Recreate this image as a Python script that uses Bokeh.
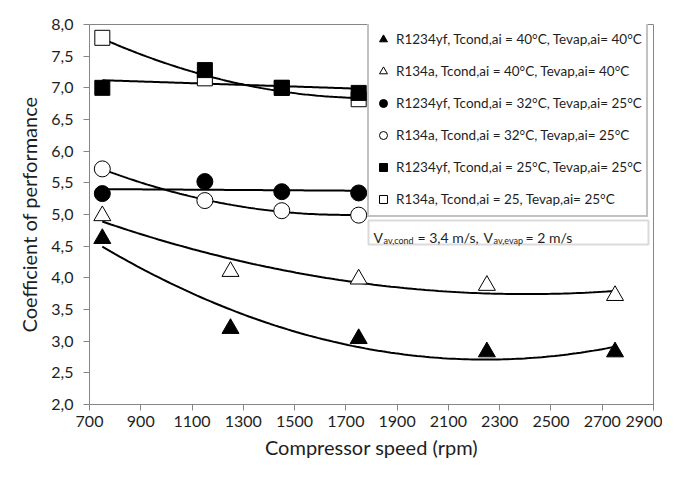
import numpy as np
from bokeh.plotting import figure
from bokeh.models import (FixedTicker, Legend, LegendItem, BoxAnnotation, Label)
from bokeh.embed import file_html
from bokeh.resources import INLINE

# ---- data ----
x_tri = [750, 1250, 1750, 2250, 2750]
yf_40 = [4.62, 3.20, 3.04, 2.83, 2.83]      # R1234yf 40/40 (filled triangle)
r134_40 = [4.98, 4.10, 3.98, 3.88, 3.72]    # R134a 40/40 (open triangle)

x_other = [750, 1150, 1450, 1750]
yf_32 = [5.33, 5.52, 5.36, 5.34]            # R1234yf 32/25 (filled circle)
r134_32 = [5.72, 5.22, 5.06, 4.99]          # R134a 32/25 (open circle)
yf_25 = [7.00, 7.28, 7.00, 6.92]            # R1234yf 25/25 (filled square)
r134_25 = [7.79, 7.15, 7.00, 6.82]          # R134a 25/25 (open square)

labels = [
    "R1234yf, Tcond,ai = 40°C, Tevap,ai= 40°C",
    "R134a, Tcond,ai = 40°C, Tevap,ai= 40°C",
    "R1234yf, Tcond,ai = 32°C, Tevap,ai= 25°C",
    "R134a, Tcond,ai = 32°C, Tevap,ai= 25°C",
    "R1234yf, Tcond,ai = 25°C, Tevap,ai= 25°C",
    "R134a, Tcond,ai = 25, Tevap,ai= 25°C",
]
x_ticks = list(range(700, 3000, 200))
y_ticks = [2.0 + 0.5 * i for i in range(13)]

FONT = "Lato"
GRAY = "#868686"
TXT = "#1e1e1e"

W, H = 662, 461
p = figure(width=W, height=H, x_range=(700, 2900), y_range=(2, 8),
           output_backend="svg", toolbar_location=None,
           min_border_left=89, min_border_right=9, min_border_top=24,
           min_border_bottom=57)
p.grid.visible = False
p.outline_line_color = GRAY
p.outline_line_width = 1
p.background_fill_color = "white"
p.border_fill_color = "white"

for ax in (p.xaxis[0], p.yaxis[0]):
    ax.axis_line_color = GRAY
    ax.major_tick_line_color = GRAY
    ax.minor_tick_line_color = None
    ax.major_tick_in = 0
    ax.major_tick_out = 6
    ax.major_label_text_font = FONT
    ax.major_label_text_font_size = "16px"
    ax.major_label_text_color = TXT
    ax.axis_label_text_font = FONT
    ax.axis_label_text_font_size = "20px"
    ax.axis_label_text_font_style = "normal"
    ax.axis_label_text_color = TXT

p.xaxis.ticker = FixedTicker(ticks=x_ticks)
p.yaxis.ticker = FixedTicker(ticks=y_ticks)
p.yaxis.major_label_overrides = {v: f"{v:.1f}".replace(".", ",") for v in y_ticks}
p.xaxis.axis_label = "Compressor speed (rpm)"
p.yaxis.axis_label = "Coefficient of performance"
p.xaxis.major_label_standoff = 5
p.xaxis.axis_label_standoff = 5
p.yaxis.major_label_standoff = 10
p.yaxis.axis_label_standoff = 7


def trend(xs, ys, deg, n=120):
    c = np.polyfit(xs, ys, deg)
    xx = np.linspace(min(xs), max(xs), n)
    return xx, np.polyval(c, xx)


# trend lines
for xs, ys, deg in [(x_tri, yf_40, 2), (x_tri, r134_40, 2),
                    (x_other, yf_32, 1), (x_other, r134_32, 2),
                    (x_other, yf_25, 1), (x_other, r134_25, 2)]:
    xx, yy = trend(xs, ys, deg)
    p.line(xx, yy, line_color="black", line_width=2)

series = [
    (x_tri, yf_40, "triangle", "black", 17),
    (x_tri, r134_40, "triangle", "white", 17),
    (x_other, yf_32, "circle", "black", 16),
    (x_other, r134_32, "circle", "white", 16),
    (x_other, yf_25, "square", "black", 15),
    (x_other, r134_25, "square", "white", 15),
]
order = [1, 0, 3, 2, 5, 4]
rends = [None] * 6
for i in order:
    xs, ys, mk, fc, sz = series[i]
    rends[i] = p.scatter(xs, ys, marker=mk, size=sz, fill_color=fc,
                         line_color="black", line_width=1)

legend = Legend(items=[LegendItem(label=labels[i], renderers=[rends[i]]) for i in range(6)],
                location=(278, 187), margin=0, padding=4, spacing=8,
                glyph_width=20, glyph_height=24, label_height=24,
                label_standoff=3, label_text_font=FONT,
                label_text_font_size="13.5px", label_text_color=TXT,
                border_line_color=GRAY, border_line_width=2,
                background_fill_color="white", background_fill_alpha=1)
p.add_layout(legend)

# speed annotation box (positions given in pixel space of the frame, converted)
FX0, FX1, FY0, FY1 = 89, 653, 24, 404


def dx(px):
    return 700 + (px - FX0) * 2200 / (FX1 - FX0)


def dy(py):
    return 8 - (py - FY0) * 6 / (FY1 - FY0)


p.add_layout(BoxAnnotation(left=dx(368), right=dx(648), top=dy(220), bottom=dy(244),
                           fill_color="white", fill_alpha=1,
                           line_color=GRAY, line_width=2))

pieces = [("V", 373, 237, "14px"), ("av,cond", 383, 240, "9px"),
          ("= 3,4 m/s,", 417, 237, "14px"), ("V", 483, 237, "14px"),
          ("av,evap", 493, 240, "9px"), ("= 2 m/s", 525, 237, "14px")]
for txt, px, py, fs in pieces:
    p.add_layout(Label(x=dx(px), y=dy(py), text=txt, text_font=FONT,
                       text_font_size=fs, text_color=TXT,
                       text_baseline="alphabetic"))

open("out.html", "w").write(file_html(p, INLINE))
